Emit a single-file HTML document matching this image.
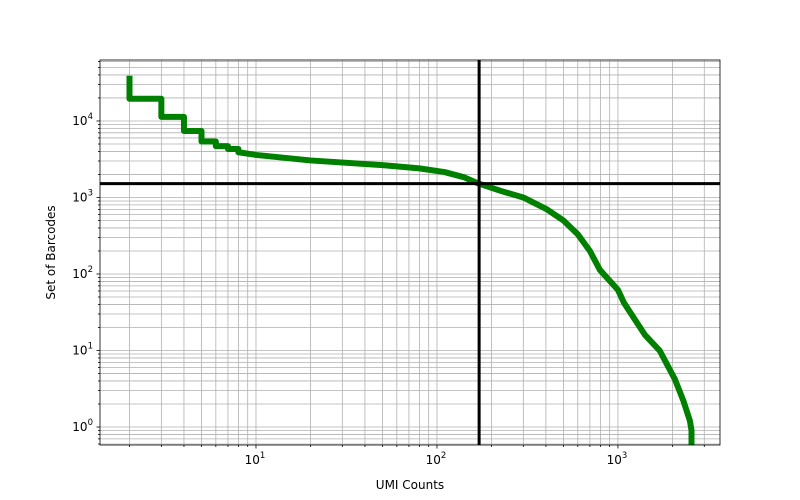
<!DOCTYPE html>
<html><head><meta charset="utf-8"><style>
body{margin:0;background:#fff}
svg{display:block;font-family:"DejaVu Sans","Liberation Sans",sans-serif}
</style></head><body>
<svg id="chart" width="800" height="500"></svg>
<script>
const umiCounts=[2,2,3,3,4,4,5,5,6,6,7,7,8,8,10,20,50,80,110,140,170,230,300,405,500,600,700,795,1000,1080,1410,1700,2065,2300,2500,2550,2550];
const barcodeCounts=[39000,19500,19500,11300,11300,7400,7400,5400,5400,4700,4700,4300,4300,3900,3600,3050,2650,2400,2150,1850,1520,1200,1000,700,500,330,200,113,62,42,16,10,4.2,2.2,1.2,0.9,0.4];
const kneeX=[171];
const kneeY=[1520];
const xTickLabels=["1","2","3"];
const yTickLabels=["0","1","2","3","4"];
const NS="http://www.w3.org/2000/svg";
const svg=document.getElementById('chart');
const L=100,R=720,T=60,B=445;
const xmin=0.1381,xmax=3.564,ymin=-0.235,ymax=4.797;
const X=v=>L+(Math.log10(v)-xmin)/(xmax-xmin)*(R-L);
const Y=v=>B-(Math.log10(v)-ymin)/(ymax-ymin)*(B-T);
function el(t,a,p){const e=document.createElementNS(NS,t);for(const k in a)e.setAttribute(k,a[k]);(p||svg).appendChild(e);return e;}
const defs=el('defs',{});const cp=el('clipPath',{id:'c'},defs);el('rect',{x:L,y:T,width:R-L,height:B-T},cp);
const grid=el('g',{});


for(let d=0;d<=3;d++)for(let m=1;m<=9;m++){const v=m*Math.pow(10,d);const x=X(v);if(x<L||x>R)continue;
 const l=el('line',{x1:x,x2:x,y1:T,y2:B,stroke:'#b0b0b0','stroke-width':0.8},grid);
 
 el('line',{x1:x,x2:x,y1:B,y2:B+(m==1?3.5:2),stroke:'#000','stroke-width':0.8});}
for(let d=-1;d<=4;d++)for(let m=1;m<=9;m++){const v=m*Math.pow(10,d);const y=Y(v);if(y<T||y>B)continue;
 const l=el('line',{x1:L,x2:R,y1:y,y2:y,stroke:'#b0b0b0','stroke-width':0.8},grid);
 
 el('line',{x1:L,x2:L-(m==1?3.5:2),y1:y,y2:y,stroke:'#000','stroke-width':0.8});}
const pts=umiCounts.map((u,i)=>X(u)+','+Y(barcodeCounts[i])).join(' ');
const curve=el('polyline',{points:pts,fill:'none',stroke:'#008000','stroke-width':6,'stroke-linejoin':'round','clip-path':'url(#c)'});


const hl=el('line',{x1:L,x2:R,y1:Y(kneeY[0]),y2:Y(kneeY[0]),stroke:'#000','stroke-width':3});


const vl=el('line',{x1:X(kneeX[0]),x2:X(kneeX[0]),y1:T,y2:B,stroke:'#000','stroke-width':3});


const fr=el('rect',{x:L,y:T,width:R-L,height:B-T,fill:'none',stroke:'#000','stroke-width':0.8});


xTickLabels.forEach(e=>{const t=el('text',{x:X(Math.pow(10,+e))-1,y:B+19,'font-size':12,'text-anchor':'middle'});
 
 t.innerHTML='10<tspan dy="-6" font-size="8.5">'+e+'</tspan>';});
yTickLabels.forEach(e=>{const t=el('text',{x:L-7,y:Y(Math.pow(10,+e))+4,'font-size':12,'text-anchor':'end'});
 
 t.innerHTML='10<tspan dy="-6" font-size="8.5">'+e+'</tspan>';});
const xt=el('text',{x:(L+R)/2,y:489,'font-size':12,'text-anchor':'middle'});xt.textContent='UMI Counts';

const yt=el('text',{x:0,y:0,'font-size':12,'text-anchor':'middle',transform:'translate(55,'+((T+B)/2)+') rotate(-90)'});yt.textContent='Set of Barcodes';

</script>
</body></html>
